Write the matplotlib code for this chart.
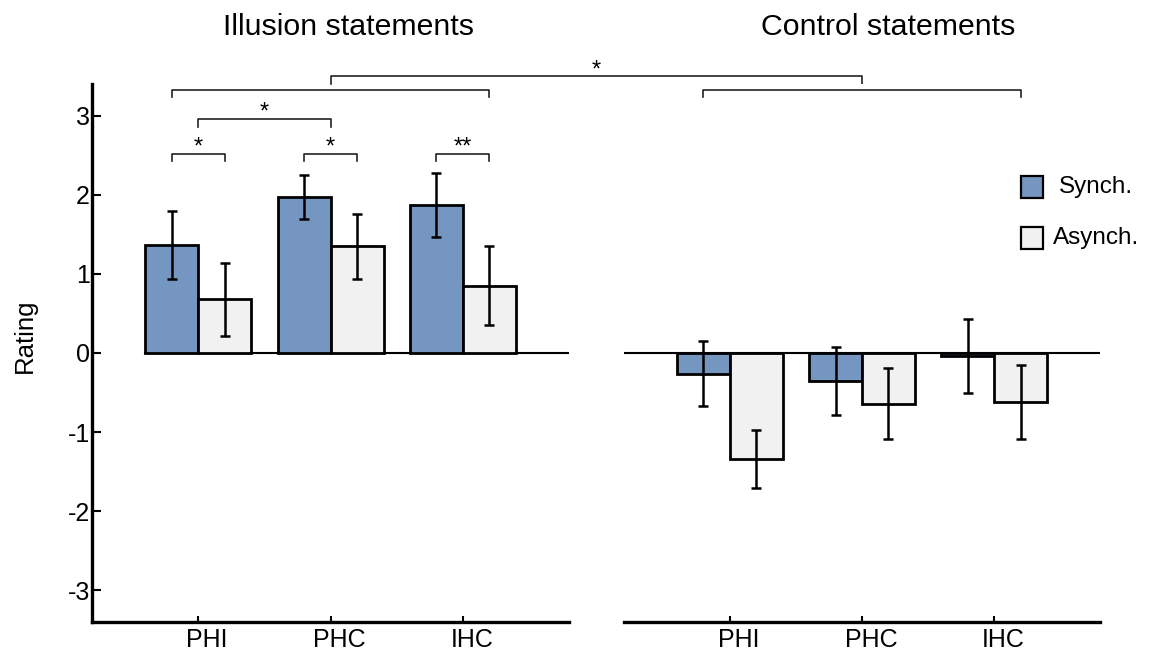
import numpy as np
import matplotlib
matplotlib.use("Agg")
import matplotlib.pyplot as plt
from matplotlib.patches import Rectangle
from matplotlib.transforms import ScaledTranslation

plt.rcParams['font.family'] = ['Liberation Sans', 'DejaVu Sans']
plt.rcParams['axes.unicode_minus'] = False

conditions = ['PHI', 'PHC', 'IHC']
panel_titles = ['Illusion statements', 'Control statements']
legend_labels = ['Synch.', 'Asynch.']

illusion_sync = [1.37, 1.97, 1.87]
illusion_sync_err = [0.43, 0.28, 0.41]
illusion_async = [0.68, 1.35, 0.85]
illusion_async_err = [0.46, 0.41, 0.50]

control_sync = [-0.26, -0.35, -0.04]
control_sync_err = [0.41, 0.43, 0.47]
control_async = [-1.34, -0.64, -0.62]
control_async_err = [0.37, 0.45, 0.47]

# significance markers
pair_stars = ['*', '*', '**']
across_star = '*'
between_star = '*'

sync_color = '#7496c1'
async_color = '#f1f1f1'
line_color = '#222222'

fig = plt.figure(figsize=(11.49, 6.57), dpi=100)
ax_l = fig.add_axes([0.0801, 0.0533, 0.4151, 0.8189])
ax_r = fig.add_axes([0.5431, 0.0533, 0.4143, 0.8189])

x = np.arange(1, len(conditions) + 1)
w = 0.40
err_style = dict(ecolor='black', elinewidth=1.8, capsize=3.6, capthick=1.8, zorder=4)

panels = [
    (ax_l, illusion_sync, illusion_sync_err, illusion_async, illusion_async_err),
    (ax_r, control_sync, control_sync_err, control_async, control_async_err),
]

for ax, s, se, a, ae in panels:
    ax.bar(x - w / 2, s, w, yerr=se, color=sync_color, edgecolor='black',
           linewidth=2, error_kw=err_style, zorder=3, label=legend_labels[0])
    ax.bar(x + w / 2, a, w, yerr=ae, color=async_color, edgecolor='black',
           linewidth=2, error_kw=err_style, zorder=3, label=legend_labels[1])
    ax.set_xlim(0.2, 3.8)
    ax.set_ylim(-3.4, 3.4)
    ax.set_xticks(x)
    ax.set_xticklabels(conditions)
    ax.tick_params(axis='x', direction='in', length=4.3, width=1.5, pad=4, labelsize=18)
    for lab in ax.get_xticklabels():
        lab.set_transform(lab.get_transform() + ScaledTranslation(0.09, 0, fig.dpi_scale_trans))
    for side in ['top', 'right']:
        ax.spines[side].set_visible(False)
    ax.spines['bottom'].set_linewidth(2.4)
    ax.spines['left'].set_linewidth(2.4)

# zero lines
ax_l.plot([x[0] - w, 3.8], [0, 0], color='black', lw=1.5, zorder=2)
ax_r.plot([0.2, 3.8], [0, 0], color='black', lw=1.5, zorder=2)

ax_l.set_yticks(np.arange(-3, 4))
ax_l.tick_params(axis='y', direction='in', length=6.5, width=1.5, pad=1.5, labelsize=18)
ax_r.spines['left'].set_visible(False)
ax_r.set_yticks([])

fig.text(0.0218, 0.4886, 'Rating', rotation=90, ha='center', va='center', fontsize=18.5)
fig.text(0.3037, 1 - 35 / 657, panel_titles[0], ha='center', va='baseline', fontsize=21.8)
fig.text(0.7728, 1 - 35 / 657, panel_titles[1], ha='center', va='baseline', fontsize=21.8)


def bracket(ax, x0, x1, y, leg, label):
    ax.plot([x0, x0, x1, x1], [y - leg, y, y, y - leg], color=line_color,
            lw=1.2, clip_on=False, zorder=5)
    ax.text((x0 + x1) / 2, y + 0.0, label, ha='center', va='baseline',
            fontsize=17, clip_on=False)


# synch vs asynch within each condition (illusion)
for xi, star in zip(x, pair_stars):
    bracket(ax_l, xi - w / 2, xi + w / 2, 2.52, 0.09, star)
# PHI vs PHC
bracket(ax_l, x[0], x[1], 2.96, 0.10, between_star)
# whole group brackets
bracket(ax_l, x[0] - w / 2, x[-1] + w / 2, 3.32, 0.09, '')
bracket(ax_r, x[0] - w / 2, x[-1] + w / 2, 3.32, 0.09, '')
# illusion vs control
xr = ax_l.transData.inverted().transform(ax_r.transData.transform((x[1], 0)))[0]
bracket(ax_l, x[1], xr, 3.50, 0.10, across_star)

# legend
for i, (lab, col) in enumerate(zip(legend_labels, [sync_color, async_color])):
    yb = 0.788 - i * 0.095
    ax_r.add_patch(Rectangle((0.834, yb), 0.0462, 0.0409, transform=ax_r.transAxes,
                             facecolor=col, edgecolor='black', lw=1.6, clip_on=False))
    ax_r.text(0.9916, yb + 0.0205, lab, transform=ax_r.transAxes, ha='center',
              va='center', fontsize=17.5)

fig.savefig('out.png', dpi=100)
